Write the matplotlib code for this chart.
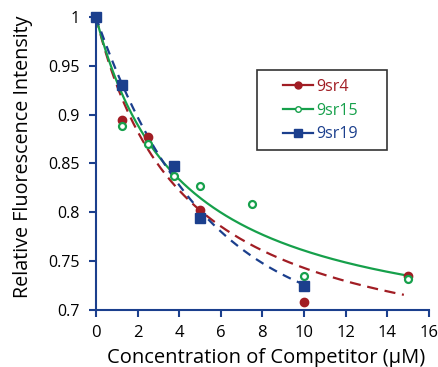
import numpy as np
import matplotlib
matplotlib.use("Agg")
from matplotlib import pyplot as plt
from matplotlib.lines import Line2D
from matplotlib.patches import Rectangle

plt.rcParams['font.family'] = ['Open Sans', 'DejaVu Sans']

# measured points
x_9sr4 = [0, 1.25, 2.5, 5, 10, 15]
y_9sr4 = [1.0, 0.895, 0.877, 0.802, 0.708, 0.735]

x_9sr15 = [0, 1.25, 2.5, 3.75, 5, 7.5, 10, 15]
y_9sr15 = [1.0, 0.888, 0.870, 0.837, 0.827, 0.809, 0.735, 0.732]

x_9sr19 = [0, 1.25, 3.75, 5, 10]
y_9sr19 = [1.0, 0.930, 0.847, 0.794, 0.725]

# binding fits: y = 1 - B*x/(K+x), drawn up to xmax
fit_9sr4 = (0.366, 4.25, 14.8)
fit_9sr15 = (0.3375, 4.12, 15.0)
# 9sr19 decay fit: y = a + (1-a)*exp(-k*x), drawn up to xmax
fit_9sr19 = (0.679, 0.192, 10.0)

red = '#a11d24'
green = '#16a04b'
blue = '#1b3f8d'


def binding_curve(params):
    B, K, xmax = params
    xs = np.linspace(0, xmax, 200)
    return xs, 1 - B * xs / (K + xs)


def decay_curve(params):
    a, k, xmax = params
    xs = np.linspace(0, xmax, 200)
    return xs, a + (1 - a) * np.exp(-k * xs)


fig = plt.figure(figsize=(4.38, 3.67), dpi=100)
ax = fig.add_axes([0.219, 0.155, 0.76, 0.799])

xs, ys = binding_curve(fit_9sr4)
ax.plot(xs, ys, color=red, lw=1.6, dashes=(5, 3))
xs, ys = binding_curve(fit_9sr15)
ax.plot(xs, ys, color=green, lw=1.6)
xs, ys = decay_curve(fit_9sr19)
ax.plot(xs, ys, color=blue, lw=1.6, dashes=(4, 3))

ax.plot(x_9sr4, y_9sr4, 'o', color=red, ms=6, clip_on=False)
ax.plot(x_9sr15, y_9sr15, 'o', mfc='white', mec=green, mew=1.6, ms=5, clip_on=False)
ax.plot(x_9sr19, y_9sr19, 's', color=blue, ms=7, clip_on=False)

ax.set_xlim(0, 16)
ax.set_ylim(0.7, 1.0)
ax.set_xticks(range(0, 17, 2))
ax.set_yticks([0.7, 0.75, 0.8, 0.85, 0.9, 0.95, 1.0])
ax.set_yticklabels(['0.7', '0.75', '0.8', '0.85', '0.9', '0.95', '1'])

for s in ['top', 'right']:
    ax.spines[s].set_visible(False)
for s in ['left', 'bottom']:
    ax.spines[s].set_color(blue)
    ax.spines[s].set_linewidth(1.5)
ax.tick_params(colors=blue, labelcolor='black', width=1.5, length=5)
ax.tick_params(axis='y', labelsize=11.5, pad=7)
ax.tick_params(axis='x', labelsize=12, pad=6)

ax.set_xlabel('Concentration of Competitor (\u03bcM)', fontsize=14.5)
ax.set_ylabel('Relative Fluorescence Intensity', fontsize=14.2)
ax.xaxis.set_label_coords(0.512, -0.128)
ax.yaxis.set_label_coords(-0.19, 0.524)

# legend box
fig.patches.append(Rectangle((0.5868, 0.5913), 0.2968, 0.218, transform=fig.transFigure,
                             fill=False, edgecolor='#333333', lw=1.2))
handles = [
    Line2D([], [], color=red, lw=1.6, marker='o', ms=5),
    Line2D([], [], color=green, lw=1.6, marker='o', mfc='white', mec=green, ms=4),
    Line2D([], [], color=blue, lw=1.6, marker='s', ms=6),
]
leg = fig.legend(handles, ['9sr4', '9sr15', '9sr19'], loc='center left',
                 bbox_to_anchor=(283 / 438, 1 - 110.5 / 367), frameon=False,
                 fontsize=11.5, handlelength=1.9, handletextpad=0.2,
                 borderpad=0, labelspacing=0.5, borderaxespad=0)
for t, c in zip(leg.get_texts(), [red, green, blue]):
    t.set_color(c)

fig.savefig('out.png', dpi=100)
